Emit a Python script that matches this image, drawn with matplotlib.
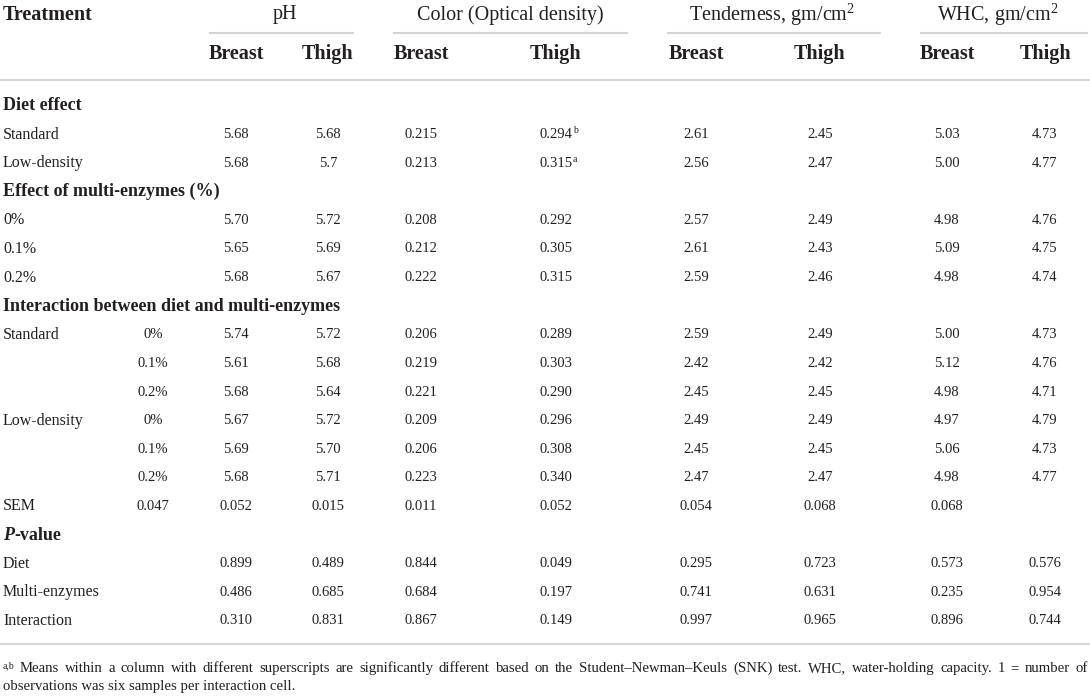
import matplotlib
matplotlib.use("Agg")
import matplotlib.pyplot as plt

plt.rcParams['font.family'] = ['Liberation Serif', 'DejaVu Serif']
plt.rcParams['mathtext.fontset'] = 'custom'
plt.rcParams['mathtext.rm'] = 'Liberation Serif'
plt.rcParams['mathtext.it'] = 'Liberation Serif:italic'
plt.rcParams['mathtext.bf'] = 'Liberation Serif:bold'

# table content
groups = ["pH", "Color (Optical density)", "Tenderness, gm/cm$^2$", "WHC, gm/cm$^2$"]
parts = ["Breast", "Thigh"]

row_labels = ["Standard", "Low-density", "0%", "0.1%", "0.2%",
              "Standard", "", "", "Low-density", "", ""]
row_sub = ["", "", "", "", "", "0%", "0.1%", "0.2%", "0%", "0.1%", "0.2%"]

ph_breast = ["5.68", "5.68", "5.70", "5.65", "5.68", "5.74", "5.61", "5.68", "5.67", "5.69", "5.68"]
ph_thigh = ["5.68", "5.7", "5.72", "5.69", "5.67", "5.72", "5.68", "5.64", "5.72", "5.70", "5.71"]
color_breast = ["0.215", "0.213", "0.208", "0.212", "0.222", "0.206", "0.219", "0.221", "0.209", "0.206", "0.223"]
color_thigh = ["0.294", "0.315", "0.292", "0.305", "0.315", "0.289", "0.303", "0.290", "0.296", "0.308", "0.340"]
color_thigh_sup = ["b", "a", "", "", "", "", "", "", "", "", ""]
tend_breast = ["2.61", "2.56", "2.57", "2.61", "2.59", "2.59", "2.42", "2.45", "2.49", "2.45", "2.47"]
tend_thigh = ["2.45", "2.47", "2.49", "2.43", "2.46", "2.49", "2.42", "2.45", "2.49", "2.45", "2.47"]
whc_breast = ["5.03", "5.00", "4.98", "5.09", "4.98", "5.00", "5.12", "4.98", "4.97", "5.06", "4.98"]
whc_thigh = ["4.73", "4.77", "4.76", "4.75", "4.74", "4.73", "4.76", "4.71", "4.79", "4.73", "4.77"]

# SEM row is shifted one column left in the source table
sem_values = ["0.047", "0.052", "0.015", "0.011", "0.052", "0.054", "0.068", "0.068", ""]

p_labels = ["Diet", "Multi-enzymes", "Interaction"]
p_diet = ["0.899", "0.489", "0.844", "0.049", "0.295", "0.723", "0.573", "0.576"]
p_enzymes = ["0.486", "0.685", "0.684", "0.197", "0.741", "0.631", "0.235", "0.954"]
p_interaction = ["0.310", "0.831", "0.867", "0.149", "0.997", "0.965", "0.896", "0.744"]

footnote1 = ("Means within a column with different superscripts are significantly different based on "
             "the Student\u2013Newman\u2013Keuls (SNK) test. WHC, water-holding capacity. 1 = number of")
footnote2 = "observations was six samples per interaction cell."

# layout (pixels)
W, H = 1090, 696
ink = '#231f20'
rule = '#d4d4d4'
sub_x = 153
col_x = [236, 328, 421, 556, 696, 820, 947, 1045]
group_x = [285, 510, 772, 998]
group_lines = [(209, 354), (393, 628), (667, 881), (920, 1088)]
row0 = 106
step = 28.6

fig = plt.figure(figsize=(W / 100, H / 100), dpi=100)
ax = fig.add_axes([0, 0, 1, 1])
ax.set_xlim(0, W)
ax.set_ylim(H, 0)
ax.axis('off')

# header
ax.text(3, 15, "Treatment", fontsize=14.5, fontweight='bold', color=ink, va='center', ha='left')
for g, gx, (x0, x1) in zip(groups, group_x, group_lines):
    ax.text(gx, 15, g, fontsize=14.5, color=ink, va='center', ha='center')
    ax.plot([x0, x1], [33, 33], color=rule, lw=1.5, solid_capstyle='butt')
for i, cx in enumerate(col_x):
    ax.text(cx, 54, parts[i % 2], fontsize=14.5, fontweight='bold', color=ink, va='center', ha='center')
ax.plot([0, W], [80, 80], color=rule, lw=1.5, solid_capstyle='butt')


def y_of(i):
    return row0 + i * step


def section(i, label):
    return ax.text(3, y_of(i), label, fontsize=13, fontweight='bold', color=ink, va='center', ha='left')


def label(i, s):
    ax.text(3, y_of(i), s, fontsize=11.5, color=ink, va='center', ha='left')


def value(i, x, s, sup=""):
    t = ax.text(x, y_of(i), s, fontsize=10.5, color=ink, va='center', ha='center')
    if sup:
        ax.annotate(sup, xy=(1.0, 0.8), xycoords=t, xytext=(0.2, 0), textcoords='offset points',
                    fontsize=7, color=ink, va='center', ha='left')


columns = [ph_breast, ph_thigh, color_breast, color_thigh,
           tend_breast, tend_thigh, whc_breast, whc_thigh]

# map data rows onto table rows
data_rows = [1, 2, 4, 5, 6, 8, 9, 10, 11, 12, 13]

section(0, "Diet effect")
section(3, "Effect of multi-enzymes (%)")
section(7, "Interaction between diet and multi-enzymes")

for k, r in enumerate(data_rows):
    if row_labels[k]:
        label(r, row_labels[k])
    if row_sub[k]:
        ax.text(sub_x, y_of(r), row_sub[k], fontsize=10.5, color=ink, va='center', ha='center')
    for c, col in enumerate(columns):
        sup = color_thigh_sup[k] if c == 3 else ""
        value(r, col_x[c], col[k], sup)

# SEM row
label(14, "SEM")
for x, s in zip([sub_x] + col_x, sem_values):
    if s:
        value(14, x, s)

# P-value rows
pt = ax.text(3, y_of(15), "P", fontsize=13, fontweight='bold', fontstyle='italic',
             color=ink, va='center', ha='left')
ax.annotate("-value", xy=(1.0, 0.0), xycoords=pt, fontsize=13, fontweight='bold',
            color=ink, va='bottom', ha='left')
for j, vals in enumerate([p_diet, p_enzymes, p_interaction]):
    label(16 + j, p_labels[j])
    for x, s in zip(col_x, vals):
        value(16 + j, x, s)

ax.plot([0, W], [644, 644], color=rule, lw=1.5, solid_capstyle='butt')

# footnote, first line justified word by word on a common baseline
fn_size = 10.6
ax.text(3, 668, "a,b", fontsize=7, color=ink, va='baseline', ha='left')
words = footnote1.split()
wts = [ax.text(0, 672, w, fontsize=fn_size, color=ink, va='baseline', ha='left') for w in words]
renderer = fig.canvas.get_renderer()
widths = [t.get_window_extent(renderer).width for t in wts]
x_start, x_end = 20, 1088
gap = (x_end - x_start - sum(widths)) / (len(words) - 1)
x = x_start
for t, w in zip(wts, widths):
    t.set_x(x)
    x += w + gap
ax.text(3, 690, footnote2, fontsize=fn_size, color=ink, va='baseline', ha='left')

fig.savefig("out.png", dpi=100, facecolor='white')
